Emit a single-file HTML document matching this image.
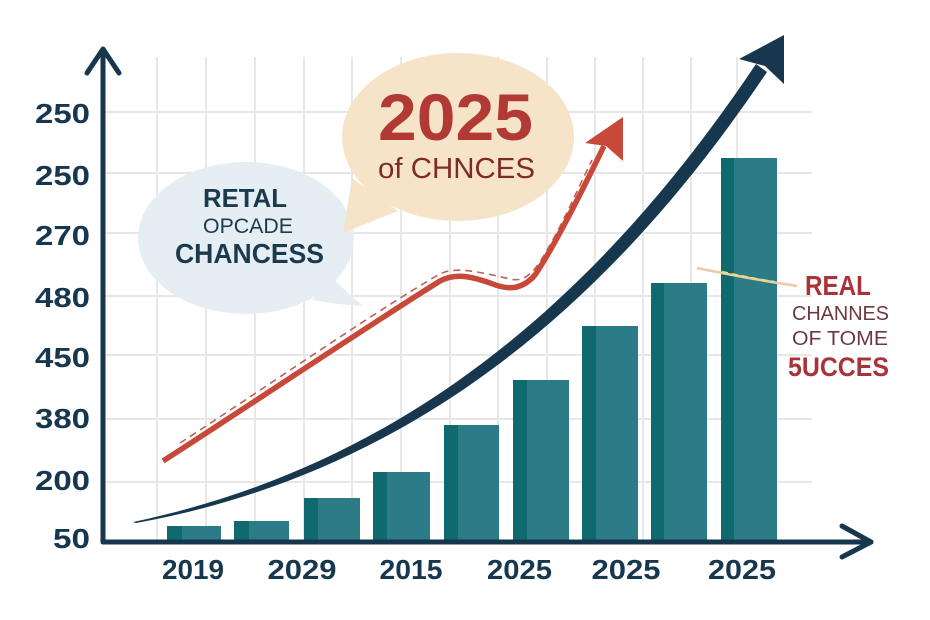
<!DOCTYPE html>
<html><head><meta charset="utf-8"><style>
html,body{margin:0;padding:0;background:#fff;}
svg{display:block;}
text{font-family:"Liberation Sans",sans-serif;}
</style></head><body>
<svg width="930" height="620" viewBox="0 0 930 620" xmlns="http://www.w3.org/2000/svg">
<rect width="930" height="620" fill="#fff"/>
<!-- grid -->
<g stroke="#e7e7e7" stroke-width="2">
<line x1="157" y1="57" x2="157" y2="542"/><line x1="206" y1="57" x2="206" y2="542"/>
<line x1="255" y1="57" x2="255" y2="542"/><line x1="304" y1="57" x2="304" y2="542"/>
<line x1="352" y1="57" x2="352" y2="542"/><line x1="401" y1="57" x2="401" y2="542"/>
<line x1="450" y1="57" x2="450" y2="542"/><line x1="498" y1="57" x2="498" y2="542"/>
<line x1="547" y1="57" x2="547" y2="542"/><line x1="595" y1="57" x2="595" y2="542"/>
<line x1="643" y1="57" x2="643" y2="542"/><line x1="691" y1="57" x2="691" y2="542"/>
<line x1="737" y1="57" x2="737" y2="542"/>
<line x1="104" y1="112" x2="812" y2="112"/><line x1="104" y1="173" x2="812" y2="173"/>
<line x1="104" y1="233" x2="812" y2="233"/><line x1="104" y1="296" x2="812" y2="296"/>
<line x1="104" y1="355" x2="812" y2="355"/><line x1="104" y1="419" x2="812" y2="419"/>
<line x1="104" y1="482" x2="812" y2="482"/>
</g>
<!-- blue bubble -->
<g fill="#e5eef3">
<ellipse cx="246" cy="238" rx="108" ry="76"/>
<path d="M335,280 Q350,296 363,306 Q340,305 312,300 Z"/>
</g>
<!-- cream bubble -->
<g fill="#f6e4c9">
<ellipse cx="458" cy="137" rx="116" ry="84"/>
<polygon points="352,178 343,233 398,211"/>
</g>
<text x="245" y="207" font-size="26" font-weight="bold" fill="#1b3a4e" text-anchor="middle" textLength="84" lengthAdjust="spacingAndGlyphs">RETAL</text>
<text x="248" y="233" font-size="21" fill="#1b3a4e" text-anchor="middle" textLength="90" lengthAdjust="spacingAndGlyphs">OPCADE</text>
<text x="249.5" y="263" font-size="28" font-weight="bold" fill="#1b3a4e" text-anchor="middle" textLength="149" lengthAdjust="spacingAndGlyphs">CHANCESS</text>
<text x="455.5" y="140" font-size="66" font-weight="bold" fill="#b23a34" text-anchor="middle" textLength="155" lengthAdjust="spacingAndGlyphs">2025</text>
<text x="456.5" y="178" font-size="29" fill="#7e2a28" text-anchor="middle" textLength="157" lengthAdjust="spacingAndGlyphs">of CHNCES</text>
<!-- red line -->
<path d="M180,443 C262,390 380,308 440,274 C455,266 480,272 510,279 C522,282 530,276 540,262 C560,230 575,195 592,160" fill="none" stroke="#c0605a" stroke-width="1.6" stroke-dasharray="7 5"/>
<path d="M163,461 C250,405 380,318 440,281 C455,273 470,276 490,283 C505,289 520,292 535,275 C555,245 580,195 604,146" fill="none" stroke="#c8483a" stroke-width="5.5"/>
<polygon points="623,117 585,143 606,146 623,161" fill="#c8483a"/>
<!-- bars -->
<g>
<rect x="167" y="526" width="54" height="16" fill="#2b7c86"/><rect x="167" y="526" width="15" height="16" fill="#0f6a70"/>
<rect x="234" y="521" width="55" height="21" fill="#2b7c86"/><rect x="234" y="521" width="15" height="21" fill="#0f6a70"/>
<rect x="304" y="498" width="56" height="44" fill="#2b7c86"/><rect x="304" y="498" width="14" height="44" fill="#0f6a70"/>
<rect x="373" y="472" width="57" height="70" fill="#2b7c86"/><rect x="373" y="472" width="14" height="70" fill="#0f6a70"/>
<rect x="444" y="425" width="55" height="117" fill="#2b7c86"/><rect x="444" y="425" width="14" height="117" fill="#0f6a70"/>
<rect x="513" y="380" width="56" height="162" fill="#2b7c86"/><rect x="513" y="380" width="14" height="162" fill="#0f6a70"/>
<rect x="582" y="326" width="56" height="216" fill="#2b7c86"/><rect x="582" y="326" width="14" height="216" fill="#0f6a70"/>
<rect x="651" y="283" width="56" height="259" fill="#2b7c86"/><rect x="651" y="283" width="13" height="259" fill="#0f6a70"/>
<rect x="721" y="158" width="56" height="384" fill="#2b7c86"/><rect x="721" y="158" width="13" height="384" fill="#0f6a70"/>
</g>
<!-- annotation line -->
<path d="M697,268 Q745,278 797,286" fill="none" stroke="#f2c9a8" stroke-width="2.5"/>
<path d="M722,272 Q748,278 774,282" fill="none" stroke="#e6df7a" stroke-width="2.5" stroke-dasharray="6 4"/>
<text x="838" y="295" font-size="28" font-weight="bold" fill="#a8343a" text-anchor="middle" textLength="66" lengthAdjust="spacingAndGlyphs">REAL</text>
<text x="840.5" y="320" font-size="20" fill="#6b3a40" text-anchor="middle" textLength="97" lengthAdjust="spacingAndGlyphs">CHANNES</text>
<text x="840" y="345" font-size="20" fill="#6b3a40" text-anchor="middle" textLength="96" lengthAdjust="spacingAndGlyphs">OF TOME</text>
<text x="838.5" y="376" font-size="27" font-weight="bold" fill="#a8343a" text-anchor="middle" textLength="101" lengthAdjust="spacingAndGlyphs">5UCCES</text>
<!-- navy curve -->
<path d="M133,522 C399,466 595,304 756,64 L767,72 C604,315 402,475 136,523 Z" fill="#16374d"/>
<polygon points="784,35 739,59 765,66 784,84" fill="#16374d"/>
<!-- axes -->
<g stroke="#16374d" stroke-width="5" fill="none" stroke-linecap="round" stroke-linejoin="round">
<line x1="103" y1="50" x2="103" y2="542"/>
<polyline points="87,73 103,49 119,73"/>
<line x1="103" y1="542" x2="871" y2="542"/>
<polyline points="842,526 871,542 842,557"/>
</g>
<!-- y labels -->
<g font-size="28" font-weight="bold" fill="#16374d" text-anchor="end">
<text x="90" y="123" textLength="55" lengthAdjust="spacingAndGlyphs">250</text>
<text x="90" y="185" textLength="55" lengthAdjust="spacingAndGlyphs">250</text>
<text x="90" y="245" textLength="55" lengthAdjust="spacingAndGlyphs">270</text>
<text x="90" y="307" textLength="55" lengthAdjust="spacingAndGlyphs">480</text>
<text x="90" y="367" textLength="55" lengthAdjust="spacingAndGlyphs">450</text>
<text x="90" y="428" textLength="55" lengthAdjust="spacingAndGlyphs">380</text>
<text x="90" y="490" textLength="55" lengthAdjust="spacingAndGlyphs">200</text>
<text x="90" y="548" textLength="37" lengthAdjust="spacingAndGlyphs">50</text>
</g>
<!-- x labels -->
<g font-size="28" font-weight="bold" fill="#16374d" text-anchor="middle">
<text x="193" y="579" textLength="62" lengthAdjust="spacingAndGlyphs">2019</text>
<text x="302" y="579" textLength="69" lengthAdjust="spacingAndGlyphs">2029</text>
<text x="411" y="579" textLength="63" lengthAdjust="spacingAndGlyphs">2015</text>
<text x="519.5" y="579" textLength="65" lengthAdjust="spacingAndGlyphs">2025</text>
<text x="626" y="579" textLength="69" lengthAdjust="spacingAndGlyphs">2025</text>
<text x="742" y="579" textLength="68" lengthAdjust="spacingAndGlyphs">2025</text>
</g>
</svg>
</body></html>
